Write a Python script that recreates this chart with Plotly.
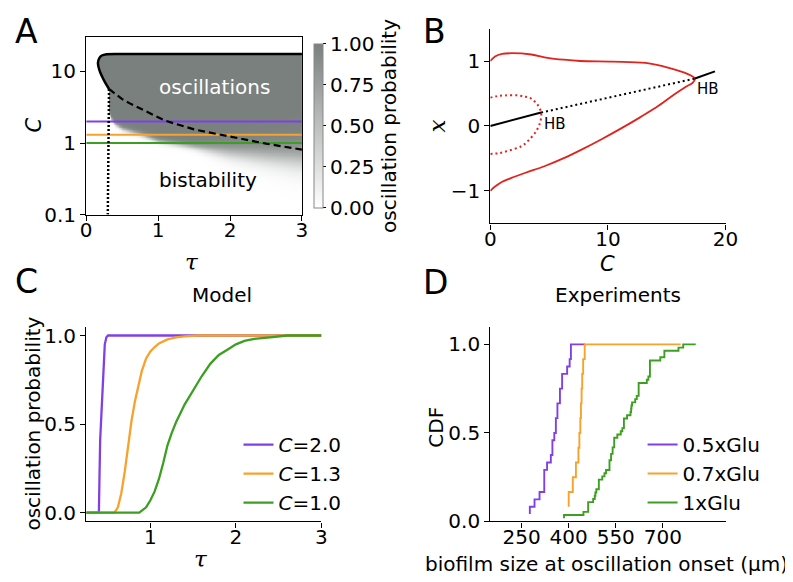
import numpy as np
import plotly.graph_objects as go

W, H = 793, 582
FONT = "DejaVu Sans"
SERIF = "DejaVu Serif"
FS = 20
PURPLE = "#8040e6"
ORANGE = "#f7a22c"
GREEN = "#3c9f22"
RED = "#e2231d"
GREY = "rgb(121,128,126)"

# ---------------- Panel A data ----------------
a_solid_tau = [0.317, 0.262, 0.217, 0.181, 0.163, 0.181, 0.217, 0.285, 0.489, 3.0]
a_solid_C = [5.69, 7.02, 8.63, 10.6, 13.1, 15.3, 16.7, 17.4, 17.6, 17.6]
a_dash_tau = [0.317, 0.4, 0.5, 0.625, 0.85, 1.1, 1.5, 2.0, 2.5, 3.0]
a_dash_C = [5.69, 4.85, 4.1, 3.5, 2.72, 2.05, 1.55, 1.22, 0.98, 0.81]
a_dot_tau = [0.317, 0.30]
a_dot_C = [5.69, 0.1]
# lower edge of the oscillation region: C at 50% probability, and edge width (decades)
a_edge_tau = [0.32, 0.35, 0.40, 0.50, 0.75, 1.0, 1.5, 2.0, 2.5, 3.0]
a_edge_C50 = [2.6, 2.2, 1.85, 1.58, 1.33, 1.06, 0.88, 0.74, 0.66, 0.6]
a_edge_w = [0.015, 0.015, 0.015, 0.018, 0.02, 0.02, 0.025, 0.06, 0.085, 0.11]
a_sel_C = [2.0, 1.3, 1.0]
a_sel_colors = [PURPLE, ORANGE, GREEN]

# ---------------- Panel B data ----------------
b_up_C = [0, 0.4, 1.0, 1.83, 3.49, 4.87, 6.25, 7.63, 10.4, 13.2, 15.1, 16.5, 17.2, 17.4]
b_up_x = [1.0, 1.07, 1.11, 1.12, 1.10, 1.05, 1.02, 1.0, 0.99, 0.97, 0.90, 0.82, 0.76, 0.73]
b_lo_C = [17.4, 17.2, 16.6, 15.6, 14.3, 12.8, 11.2, 9.5, 7.8, 6.2, 4.6, 3.0, 1.8, 0.9, 0.35, 0]
b_lo_x = [0.73, 0.665, 0.60, 0.48, 0.31, 0.14, -0.03, -0.20, -0.36, -0.50, -0.62, -0.72, -0.80, -0.87, -0.94, -1.0]
b_unst_C = [0, 0.6, 1.27, 2.38, 3.0, 3.49, 4.04, 4.32, 4.26, 3.9, 3.21, 2.66, 1.55, 0.7, 0]
b_unst_x = [0.436, 0.46, 0.47, 0.47, 0.45, 0.42, 0.32, 0.206, 0.07, -0.08, -0.23, -0.31, -0.38, -0.42, -0.43]
b_fp_C = [0, 4.32, 17.4, 19.1]
b_fp_x = [0, 0.206, 0.73, 0.84]

# ---------------- Panel C data ----------------
c_tau_20 = [0.25, 0.398, 0.405, 0.413, 0.429, 0.448, 0.467, 0.486, 0.505, 3.0]
c_p_20 = [0.0, 0.0, 0.2, 0.41, 0.57, 0.77, 0.95, 0.99, 1.0, 1.0]
c_tau_13 = [0.25, 0.58, 0.62, 0.66, 0.70, 0.74, 0.78, 0.82, 0.86, 0.90, 0.95, 1.00, 1.05, 1.10, 1.20, 1.30, 1.40, 1.55, 3.0]
c_p_13 = [0, 0, 0.03, 0.11, 0.23, 0.38, 0.52, 0.63, 0.72, 0.80, 0.87, 0.91, 0.935, 0.955, 0.978, 0.99, 0.995, 1.0, 1.0]
c_tau_10 = [0.25, 0.87, 0.95, 1.0, 1.05, 1.10, 1.15, 1.20, 1.25, 1.30, 1.40, 1.50, 1.60, 1.70, 1.80, 1.90, 2.0, 2.1, 2.2, 2.4, 2.6, 3.0]
c_p_10 = [0, 0, 0.03, 0.07, 0.12, 0.19, 0.28, 0.38, 0.45, 0.51, 0.61, 0.69, 0.77, 0.84, 0.89, 0.92, 0.95, 0.97, 0.98, 0.99, 1.0, 1.0]
c_labels = ["<i>C</i>=2.0", "<i>C</i>=1.3", "<i>C</i>=1.0"]

# ---------------- Panel D data (sorted biofilm sizes, µm) ----------------
d_size_05 = [276, 291, 307, 322, 322, 322, 331, 343, 348, 348, 354, 359, 359, 364, 364,
             372, 372, 379, 379, 395, 403, 407, 407, 452]
d_size_07 = [400, 413, 423, 431, 434, 437, 439, 441, 443, 446, 451, 757]
d_size_10 = [385, 447, 462, 462, 462, 478, 483, 485, 488, 496, 496, 496, 507, 514, 519,
             530, 530, 530, 535, 535, 540, 540, 545, 545, 545, 555, 566, 571, 576, 576,
             576, 586, 597, 599, 600, 602, 612, 617, 623, 623, 623, 623, 649, 654, 659,
             659, 659, 659, 659, 692, 705, 705, 750, 765, 805]
d_labels = ["0.5xGlu", "0.7xGlu", "1xGlu"]


def xd(p0, p1):
    return [p0 / W, p1 / W]


def yd(top, bottom):
    return [1 - bottom / H, 1 - top / H]


fig = go.Figure()

# ---------- Panel A heatmap (grid built from the read boundaries) ----------
tau_grid = np.linspace(0.005, 2.995, 300)
logc_grid = np.arange(-0.995, 1.48, 0.01)
T, L = np.meshgrid(tau_grid, logc_grid)
c50 = np.interp(T, a_edge_tau, np.log10(a_edge_C50))
wid = np.interp(T, a_edge_tau, a_edge_w)
prob = 1.0 / (1.0 + np.exp(-(L - c50) / wid))
left = np.interp(L, np.log10(a_solid_C[:9]), a_solid_tau[:9])
prob = np.where(T < left, 0.0, prob)
prob = np.where(L > np.log10(max(a_solid_C)), 0.0, prob)

fig.add_trace(go.Heatmap(
    x=tau_grid, y=logc_grid, z=prob, zmin=0, zmax=1,
    colorscale=[[0, "white"], [1, GREY]], xaxis="x", yaxis="y",
    colorbar=dict(
        x=307 / W, xanchor="left", xpad=0, y=1 - 118 / H, yanchor="middle",
        len=168 / H, lenmode="fraction", ypad=0, thickness=9,
        outlinecolor="#888888", outlinewidth=1,
        tickvals=[0, 0.25, 0.5, 0.75, 1.0], ticktext=["0.00", "0.25", "0.50", "0.75", "1.00"],
        ticks="outside", ticklen=3, tickcolor="black",
        tickfont=dict(family=FONT, size=FS, color="black"),
        title=dict(text="oscillation probability", side="right",
                   font=dict(family=FONT, size=FS, color="black")),
    ),
    hoverinfo="skip", showscale=True,
))

for cval, col in zip(a_sel_C, a_sel_colors):
    fig.add_trace(go.Scatter(x=[0, 3], y=[np.log10(cval)] * 2, mode="lines",
                             line=dict(color=col, width=2), xaxis="x", yaxis="y", showlegend=False))
fig.add_trace(go.Scatter(x=a_dash_tau, y=np.log10(a_dash_C), mode="lines",
                         line=dict(color="black", width=2.2, dash="7px,4px"),
                         xaxis="x", yaxis="y", showlegend=False))
fig.add_trace(go.Scatter(x=a_dot_tau, y=np.log10(a_dot_C), mode="lines",
                         line=dict(color="black", width=2.5, dash="2px,2px"),
                         xaxis="x", yaxis="y", showlegend=False))
fig.add_trace(go.Scatter(x=a_solid_tau, y=np.log10(a_solid_C), mode="lines", line_shape="spline",
                         line=dict(color="black", width=2.5), xaxis="x", yaxis="y", showlegend=False))

# ---------- Panel B ----------
fig.add_trace(go.Scatter(x=b_up_C + b_lo_C[1:], y=b_up_x + b_lo_x[1:], mode="lines", line_shape="spline",
                         line=dict(color=RED, width=1.8), xaxis="x2", yaxis="y2", showlegend=False))
fig.add_trace(go.Scatter(x=b_unst_C, y=b_unst_x, mode="lines", line_shape="spline",
                         line=dict(color=RED, width=2, dash="2px,3px"), xaxis="x2", yaxis="y2", showlegend=False))
fig.add_trace(go.Scatter(x=b_fp_C[:2], y=b_fp_x[:2], mode="lines",
                         line=dict(color="black", width=2), xaxis="x2", yaxis="y2", showlegend=False))
fig.add_trace(go.Scatter(x=b_fp_C[1:3], y=b_fp_x[1:3], mode="lines",
                         line=dict(color="black", width=2, dash="2px,3px"), xaxis="x2", yaxis="y2", showlegend=False))
fig.add_trace(go.Scatter(x=b_fp_C[2:], y=b_fp_x[2:], mode="lines",
                         line=dict(color="black", width=2), xaxis="x2", yaxis="y2", showlegend=False))

# ---------- Panel C ----------
for tx, py_, col, lab in zip([c_tau_20, c_tau_13, c_tau_10], [c_p_20, c_p_13, c_p_10],
                              a_sel_colors, c_labels):
    fig.add_trace(go.Scatter(x=tx, y=py_, mode="lines", line=dict(color=col, width=2.3),
                             name=lab, xaxis="x3", yaxis="y3", legend="legend", legendgroup=lab))

# ---------- Panel D ----------
for sizes, col, lab in zip([d_size_05, d_size_07, d_size_10], a_sel_colors, d_labels):
    n = len(sizes)
    cdf = np.arange(1, n + 1) / n
    fig.add_trace(go.Scatter(x=sizes, y=cdf, mode="lines", line_shape="vh",
                             line=dict(color=col, width=1.9), name=lab,
                             xaxis="x4", yaxis="y4", legend="legend2", legendgroup=lab))

axc = dict(showline=True, linecolor="black", linewidth=1.3, ticks="outside", ticklen=5,
           tickwidth=1.3, tickcolor="black", showgrid=False, zeroline=False,
           tickfont=dict(family=FONT, size=FS, color="black"))
axx = dict(axc, ticklabelstandoff=-8)

fig.update_layout(
    width=W, height=H, margin=dict(l=0, r=0, t=0, b=0),
    paper_bgcolor="white", plot_bgcolor="white",
    font=dict(family=FONT, size=FS, color="black"),
    xaxis=dict(axx, domain=xd(74, 295), range=[0, 3], tickvals=[0, 1, 2, 3], mirror=True, anchor="y"),
    yaxis=dict(axc, domain=yd(27, 209), range=[-1, np.log10(30)], tickvals=[-1, 0, 1],
               ticktext=["0.1", "1", "10"], mirror=True, anchor="x"),
    xaxis2=dict(axx, domain=xd(488, 729), range=[0, 20], tickvals=[0, 10, 20], anchor="y2"),
    yaxis2=dict(axc, domain=yd(18, 218), range=[-1.5, 1.5], tickvals=[-1, 0, 1],
                ticktext=["\u22121", "0", "1"], anchor="x2"),
    xaxis3=dict(axx, domain=xd(74, 315), range=[0.25, 3.0], tickvals=[1, 2, 3], anchor="y3"),
    yaxis3=dict(axc, domain=yd(324, 524), range=[-0.05, 1.05], tickvals=[0, 0.5, 1.0],
                ticktext=["0.0", "0.5", "1.0"], anchor="x3"),
    xaxis4=dict(axx, domain=xd(488, 729), range=[150, 900], tickvals=[250, 400, 550, 700], anchor="y4"),
    yaxis4=dict(axc, domain=yd(324, 524), range=[0, 1.1], tickvals=[0, 0.5, 1.0],
                ticktext=["0.0", "0.5", "1.0"], anchor="x4"),
    legend=dict(x=230 / W, y=1 - 425 / H, xanchor="left", yanchor="top", bgcolor="rgba(0,0,0,0)",
                font=dict(family=FONT, size=FS), tracegroupgap=0),
    legend2=dict(x=644 / W, y=1 - 425 / H, xanchor="left", yanchor="top", bgcolor="rgba(0,0,0,0)",
                 font=dict(family=FONT, size=FS), tracegroupgap=0),
)


def pann(text, px, py, size=FS, angle=0, family=FONT, color="black"):
    fig.add_annotation(text=text, x=px / W, y=1 - py / H, xref="paper", yref="paper",
                       showarrow=False, xanchor="center", yanchor="middle", textangle=angle,
                       font=dict(family=family, size=size, color=color))


# panel letters
pann("A", 13, 21, size=33)
pann("B", 431, 21, size=33)
pann("C", 13, 278, size=33)
pann("D", 432, 279, size=33)
# axis titles
pann("<i>C</i>", 20, 117, size=21, angle=-90)
pann("<i>τ</i>", 182, 258, size=23, family=SERIF)
pann("<i>x</i>", 433, 118, size=23, angle=-90, family=SERIF)
pann("<i>C</i>", 608, 260, size=21)
pann("oscillation probability", 20, 424, angle=-90)
pann("<i>τ</i>", 192, 563, size=23, family=SERIF)
pann("CDF", 432, 427, angle=-90)
pann("biofilm size at oscillation onset (μm)", 607, 568)
# titles
pann("Model", 213, 292)
pann("Experiments", 619, 292)

# in-plot labels
fig.add_annotation(text="oscillations", x=1.78, y=0.78, xref="x", yref="y", showarrow=False,
                   font=dict(family=FONT, size=FS, color="white"))
fig.add_annotation(text="bistability", x=1.69, y=-0.514, xref="x", yref="y", showarrow=False,
                   font=dict(family=FONT, size=FS, color="black"))
fig.add_annotation(text="HB", x=5.5, y=0.03, xref="x2", yref="y2", showarrow=False,
                   font=dict(family=FONT, size=15, color="black"))
fig.add_annotation(text="HB", x=18.5, y=0.57, xref="x2", yref="y2", showarrow=False,
                   font=dict(family=FONT, size=15, color="black"))

fig.write_html("out.html")
